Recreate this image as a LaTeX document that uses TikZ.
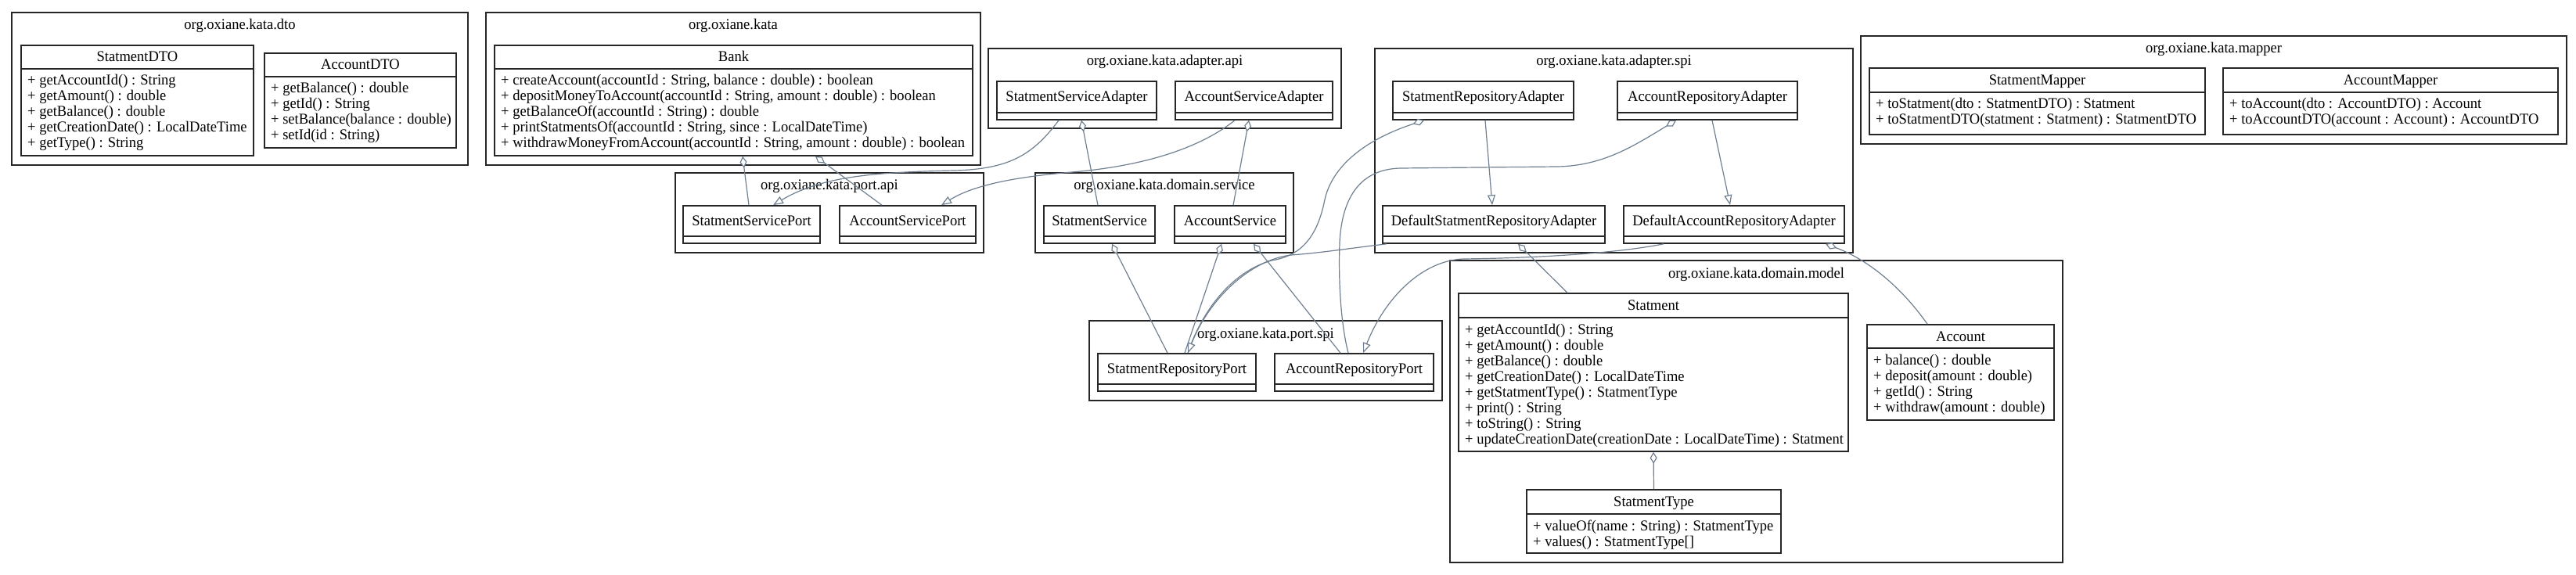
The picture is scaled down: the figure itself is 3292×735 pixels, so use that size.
\documentclass[tikz,border=0pt]{standalone}
\usepackage{fontspec}
\setmainfont{Liberation Serif}[FakeStretch=0.965]
\usetikzlibrary{arrows.meta}
\definecolor{edgec}{HTML}{708090}
\definecolor{boxc}{HTML}{262626}
\tikzset{
  pkgframe/.style={draw=boxc, line width=1.7pt, fill=white, inner sep=0pt, rectangle},
  clsframe/.style={draw=boxc, line width=1.6pt, fill=white, inner sep=0pt, rectangle},
  clsline/.style={draw=boxc, line width=1.6pt},
  txt/.style={inner sep=0pt, font=\fontsize{19.2}{20}\selectfont, text=black},
  conn/.style={draw=edgec, line width=1.2pt},
  agg/.style={conn, {Diamond[open, length=15pt, width=9pt, fill=white]}-},
  real/.style={conn, -{Triangle[open, length=13pt, width=10pt, fill=white]}},
}
\newcommand{\pkgbox}[6]{%
  \node[pkgframe, minimum width={(#4-#2)*1pt}, minimum height={(#5-#3)*1pt}] (#1) at ({(#2+#4)/2},{(#3+#5)/2}) {};
  \node[txt, anchor=base] (#1-t) at ({(#2+#4)/2},{#3+22}) {#6};
}
\newcommand{\clsbox}[8]{%
  \node[clsframe, minimum width={(#4-#2)*1pt}, minimum height={(#5-#3)*1pt}] (#1) at ({(#2+#4)/2},{(#3+#5)/2}) {};
  \draw[clsline] (#2,#6) -- (#4,#6);
  \node[txt, anchor=base] (#1-t) at ({(#2+#4)/2},{(#3+#6)/2+6}) {#7};
  \foreach \mm [count=\i] in {#8} {\node[txt, anchor=base west] (#1-m\i) at ({#2+8},{#6+21+(\i-1)*20}) {\mm};}
}
\newcommand{\smallcls}[7]{%
  \node[clsframe, minimum width={(#4-#2)*1pt}, minimum height={(#5-#3)*1pt}] (#1) at ({(#2+#4)/2},{(#3+#5)/2}) {};
  \draw[clsline] (#2,#6) -- (#4,#6);
  \node[txt, anchor=base] (#1-t) at ({(#2+#4)/2},{(#3+#6)/2+6}) {#7};
}
\begin{document}
\begin{tikzpicture}[x=1pt, y=-1pt]
\useasboundingbox[fill=white] (0,0) rectangle (3292,735);

% packages
\pkgbox{pdto}{15}{16}{598}{211}{org.oxiane.kata.dto}
\pkgbox{pkata}{621}{16}{1253}{211}{org.oxiane.kata}
\pkgbox{padapi}{1263}{62}{1714}{164}{org.oxiane.kata.adapter.api}
\pkgbox{padspi}{1757}{62}{2368}{323}{org.oxiane.kata.adapter.spi}
\pkgbox{pmapper}{2378}{46}{3280}{184}{org.oxiane.kata.mapper}
\pkgbox{pportapi}{863}{221}{1257}{323}{org.oxiane.kata.port.api}
\pkgbox{pdomserv}{1323}{221}{1653}{323}{org.oxiane.kata.domain.service}
\pkgbox{pportspi}{1392}{410}{1843}{512}{org.oxiane.kata.port.spi}
\pkgbox{pdommodel}{1853}{333}{2636}{719}{org.oxiane.kata.domain.model}

% classes
\clsbox{sdto}{27}{58}{324}{199}{88}{StatmentDTO}{{+ getAccountId() : String},{+ getAmount() : double},{+ getBalance() : double},{+ getCreationDate() : LocalDateTime},{+ getType() : String}}
\clsbox{adto}{338}{68}{583}{189}{98}{AccountDTO}{{+ getBalance() : double},{+ getId() : String},{+ setBalance(balance : double)},{+ setId(id : String)}}
\clsbox{bank}{632}{58}{1243}{199}{88}{Bank}{{+ createAccount(accountId : String, balance : double) : boolean},{+ depositMoneyToAccount(accountId : String, amount : double) : boolean},{+ getBalanceOf(accountId : String) : double},{+ printStatmentsOf(accountId : String, since : LocalDateTime)},{+ withdrawMoneyFromAccount(accountId : String, amount : double) : boolean}}
\smallcls{ssa}{1274}{104}{1478}{153}{144}{StatmentServiceAdapter}
\smallcls{asa}{1502}{104}{1703}{153}{144}{AccountServiceAdapter}
\smallcls{sra}{1780}{104}{2011}{153}{144}{StatmentRepositoryAdapter}
\smallcls{ara}{2067}{104}{2297}{153}{144}{AccountRepositoryAdapter}
\smallcls{dsra}{1767}{263}{2051}{311}{302}{DefaultStatmentRepositoryAdapter}
\smallcls{dara}{2075}{263}{2357}{311}{302}{DefaultAccountRepositoryAdapter}
\clsbox{smap}{2389}{87}{2818}{172}{118}{StatmentMapper}{{+ toStatment(dto : StatmentDTO) : Statment},{+ toStatmentDTO(statment : Statment) : StatmentDTO}}
\clsbox{amap}{2841}{87}{3269}{172}{118}{AccountMapper}{{+ toAccount(dto : AccountDTO) : Account},{+ toAccountDTO(account : Account) : AccountDTO}}
\smallcls{ssp}{873}{263}{1048}{311}{302}{StatmentServicePort}
\smallcls{asp}{1073}{263}{1247}{311}{302}{AccountServicePort}
\smallcls{ss}{1334}{263}{1476}{311}{302}{StatmentService}
\smallcls{as}{1501}{263}{1643}{311}{302}{AccountService}
\smallcls{srp}{1403}{452}{1605}{500}{491}{StatmentRepositoryPort}
\smallcls{arp}{1629}{452}{1832}{500}{491}{AccountRepositoryPort}
\clsbox{st}{1864}{375}{2362}{577}{406}{Statment}{{+ getAccountId() : String},{+ getAmount() : double},{+ getBalance() : double},{+ getCreationDate() : LocalDateTime},{+ getStatmentType() : StatmentType},{+ print() : String},{+ toString() : String},{+ updateCreationDate(creationDate : LocalDateTime) : Statment}}
\clsbox{acc}{2386}{415}{2625}{537}{445}{Account}{{+ balance() : double},{+ deposit(amount : double)},{+ getId() : String},{+ withdraw(amount : double)}}
\clsbox{stt}{1951}{626}{2276}{707}{657}{StatmentType}{{+ valueOf(name : String) : StatmentType},{+ values() : StatmentType[]}}

% connectors
\draw[agg] ([xshift=11.5pt]bank.south) -- ([xshift=-3.5pt]ssp.north);
\draw[agg] ([xshift=104.5pt]bank.south) -- ([xshift=-33pt]asp.north);
\draw[real] ([xshift=-23pt]ssa.south) .. controls (1320,198) and (1290,216) .. (1220,218) .. controls (1120,220) and (1050,225) .. ([xshift=27.5pt]ssp.north);
\draw[real] ([xshift=-24.5pt]asa.south) .. controls (1520,200) and (1430,215) .. (1370,220) .. controls (1300,226) and (1245,236) .. ([xshift=43pt]asp.north);
\draw[agg] ([xshift=6pt]ssa.south) -- ([xshift=-2pt]ss.north);
\draw[agg] ([xshift=-6.5pt]asa.south) -- ([xshift=4pt]as.north);
\draw[agg] ([xshift=16pt]ss.south) -- ([xshift=-12pt]srp.north);
\draw[agg] ([xshift=-11pt]as.south) -- ([xshift=10pt]srp.north);
\draw[agg] ([xshift=30pt]as.south) -- ([xshift=-17.5pt]arp.north);
\draw[agg] ([xshift=-75.5pt]sra.south) .. controls (1740,180) and (1702,215) .. (1693,255) .. controls (1682,312) and (1655,328) .. (1625,333) .. controls (1578,346) and (1538,392) .. ([xshift=14pt]srp.north);
\draw[real] ([xshift=-137pt]dsra.south) .. controls (1720,318) and (1690,323) .. (1650,326) .. controls (1598,332) and (1545,382) .. ([xshift=14pt]srp.north);
\draw[agg] ([xshift=-40pt]ara.south) .. controls (2090,185) and (2050,212) .. (1990,213) -- (1790,215) .. controls (1740,216) and (1715,250) .. (1712,310) .. controls (1710,370) and (1715,420) .. ([xshift=-7.5pt]arp.north);
\draw[real] ([xshift=-90pt]dara.south) .. controls (2060,325) and (1950,330) .. (1870,331) .. controls (1818,333) and (1770,380) .. ([xshift=11.5pt]arp.north);
\draw[real] ([xshift=2.5pt]sra.south) -- ([xshift=-2pt]dsra.north);
\draw[real] ([xshift=6pt]ara.south) -- ([xshift=-5pt]dara.north);
\draw[agg] ([xshift=31pt]dsra.south) -- ([xshift=-110pt]st.north);
\draw[agg] ([xshift=117pt]dara.south) .. controls (2390,333) and (2432,370) .. ([xshift=-42.5pt]acc.north);
\draw[agg] (st.south) -- (stt.north);
\end{tikzpicture}
\end{document}
